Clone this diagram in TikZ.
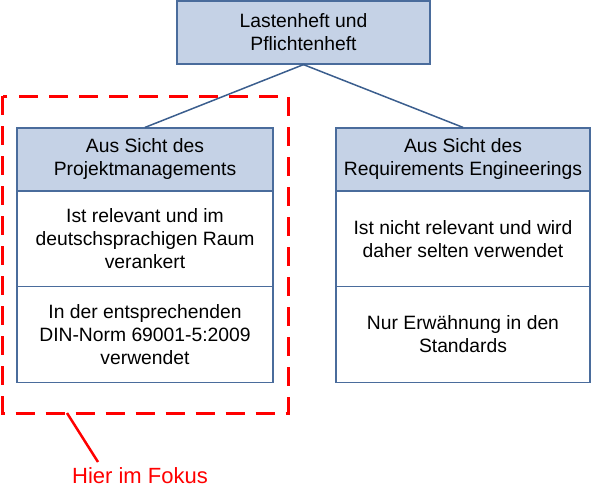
\documentclass[tikz,border=0pt]{standalone}
\usepackage{fontspec}
\setmainfont{Liberation Sans}
\definecolor{hdrfill}{HTML}{C5D2E6}
\definecolor{boxline}{HTML}{4A6C9C}
\definecolor{conline}{HTML}{3B5E8E}
\definecolor{focred}{HTML}{FF0000}
\tikzset{
  cell/.style={draw=boxline, line width=1.2pt, fill=white, inner sep=0pt, align=center,
    minimum width=256pt, font=\fontsize{19.3}{23}\selectfont},
  hdr/.style={cell, fill=hdrfill, minimum height=63pt},
  body/.style={cell, minimum height=95.5pt},
  conn/.style={draw=conline, line width=1.5pt},
  focusbox/.style={draw=focred, line width=3pt, dash pattern=on 19pt off 11pt},
  focuslabel/.style={text=focred, font=\fontsize{22}{26}\selectfont, inner sep=0pt},
}
\begin{document}
\begin{tikzpicture}[x=1pt,y=-1pt]
\useasboundingbox (0,0) rectangle (600,501);
% dashed focus frame
\draw[focusbox] (2.5,96) rectangle (288,413);
\coordinate (fstart) at (67,413);
\coordinate (fend) at (98,462);
\node[focuslabel] (fokus) at (140,476) {Hier im Fokus};
\draw[draw=focred, line width=2.5pt] (fstart) -- (fend);
% top
\node[hdr, minimum width=253pt] (top) at (303.5,32.5) {Lastenheft und\\Pflichtenheft};
% left column
\node[hdr] (lh) at (145,159.5) {Aus Sicht des\\Projektmanagements};
\node[body] (l1) at (145,239) {Ist relevant und im\\deutschsprachigen Raum\\verankert};
\node[body] (l2) at (145,334.5) {In der entsprechenden\\DIN-Norm 69001-5:2009\\verwendet};
% right column
\node[hdr, minimum width=254pt] (rh) at (463,159.5) {Aus Sicht des\\Requirements Engineerings};
\node[body, minimum width=254pt] (r1) at (463,239) {Ist nicht relevant und wird\\daher selten verwendet};
\node[body, minimum width=254pt] (r2) at (463,334.5) {Nur Erwähnung in den\\Standards};
% connectors
\draw[conn] (top.south) -- (lh.north);
\draw[conn] (top.south) -- (rh.north);
\end{tikzpicture}
\end{document}
